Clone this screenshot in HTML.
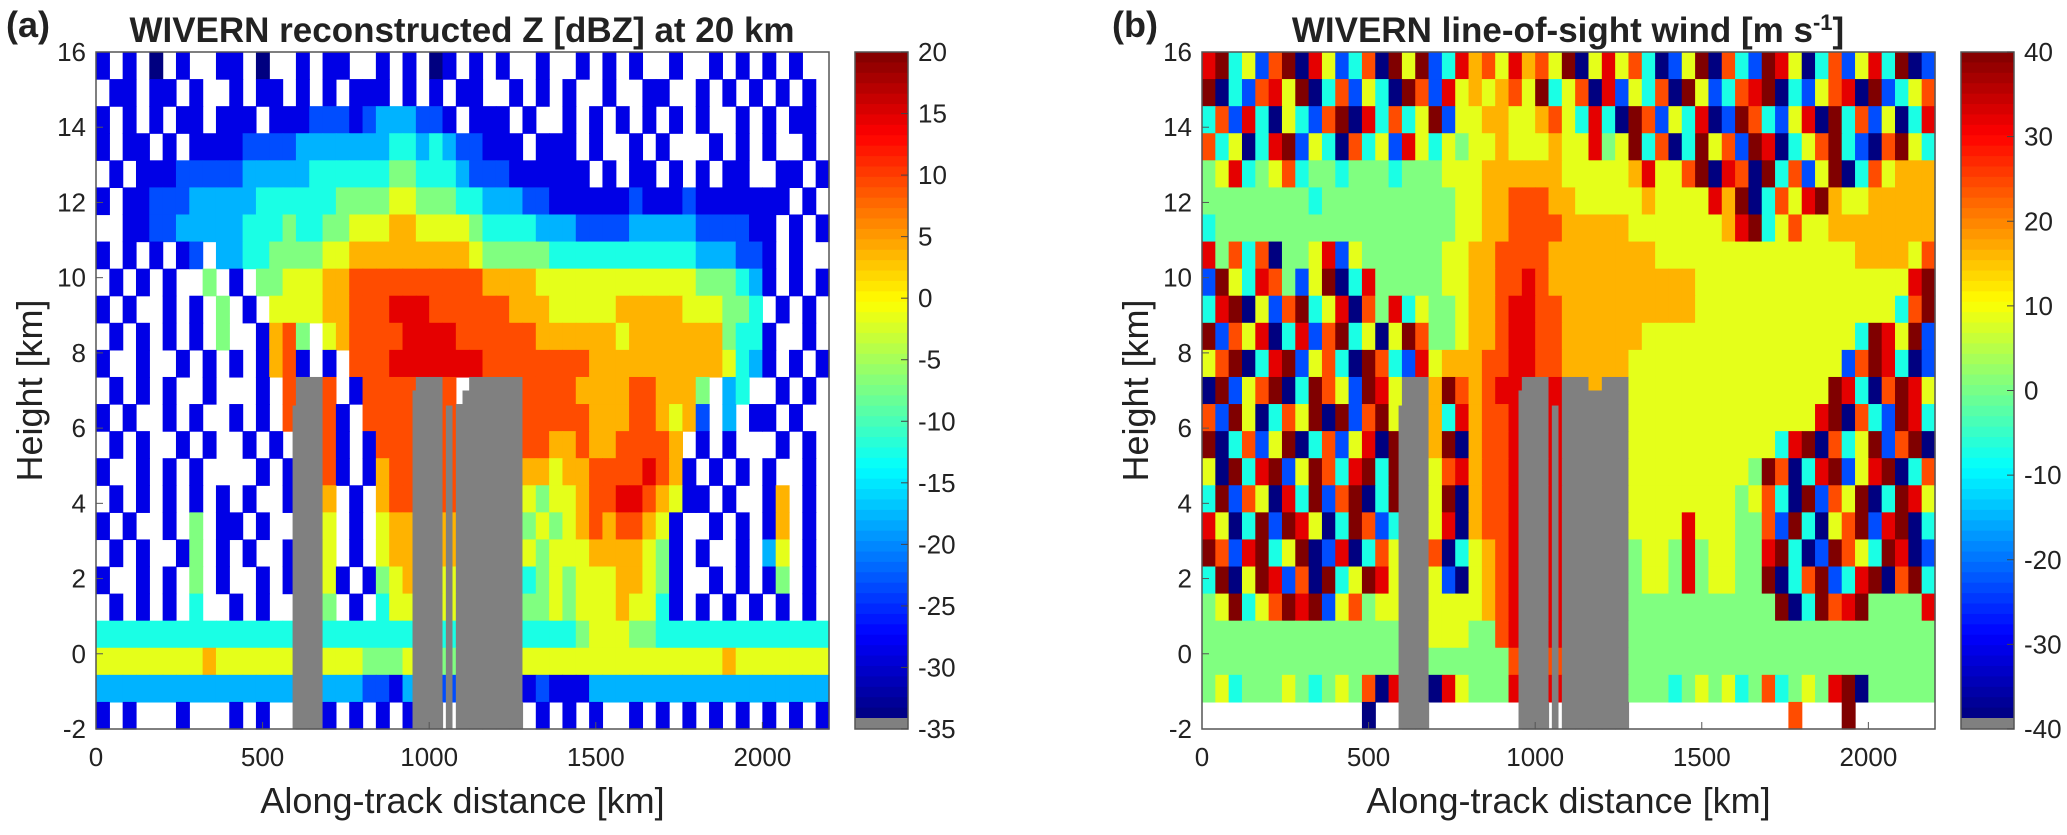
<!DOCTYPE html>
<html><head><meta charset="utf-8"><style>
body{margin:0;background:#fff}
svg text{font-family:"Liberation Sans",Arial,sans-serif;fill:#222}
</style></head><body>
<svg id="fig" width="2067" height="830" viewBox="0 0 2067 830" xmlns="http://www.w3.org/2000/svg"></svg>
<script>
// ---------- data ----------
const xTicks=[0,500,1000,1500,2000];
const yTicks=[-2,0,2,4,6,8,10,12,14,16];
const cbTicksA=[-35,-30,-25,-20,-15,-10,-5,0,5,10,15,20];
const cbTicksB=[-40,-30,-20,-10,0,10,20,30,40];
// blockage (gray) columns: start km, end km, top km
const blockStart=[590,950,1050,1100,1230];
const blockEnd=[670,1030,1070,1230,1265];
const blockTop=[6.6,7.0,6.6,7.0,6.6];
// gridded fields: 11 chunks x 5 columns (40 km each) x 25 rows (0.72 km), top row first
// '.' = no data, 'g' = blocked, '0'..'9','A' = level index 0..10
const zRows=[
"1.1.0 .1..1 1.0.. 1.11. .1.1. 01.1. 1..1. .1.1. 1..1. .1.1. 1.1..",
".11.1 1.1.. 1.11. 1.1.1 11.1. 1.11. .1.1. 1..1. .11.. 1.1.1 .1.1.",
"1.1.1 .11.1 11.11 12221 23332 21.11 1.1.. 1.1.1 .1.1. 1..1. 1.11.",
"1.11. 1.111 12222 33333 33443 43221 11.11 1.1.. 1.1.. .1.1. 1..1.",
".1.11 12222 23333 34444 44554 44322 21111 11.1. 11.1. 1.11. .11.1",
"1.112 22333 33444 44455 55665 55443 33221 11111 21112 11111 11.1.",
"..112 23333 34445 44556 66776 66654 44433 32222 33333 22221 1.1.1",
"1.1.1 .12.3 34455 55667 77777 77765 55554 44444 44444 33322 1.1..",
".1.1. 1..5. 1.556 66778 88888 88887 77766 66666 66666 55543 1.1.1",
"1.1.. 1.1.5 .1.66 66778 88999 88888 87776 66667 77776 66554 .1.1.",
".1.1. 1.1.5 ..178 5.678 88899 99888 88877 77776 77777 77544 1..1.",
"1..1. .1.1. 1.178 1.1.8 88999 99998 88888 88777 77777 77643 1.1.1",
".1.1. 1..1. ..1.8 gg8.1 8888g g8.gg gg888 87777 88777 5.34. .1.1.",
"1.1.. 1.1.. 1.1.8 gg81. 8888g g8ggg gg888 88777 88767 2.3.1 1.1..",
".1.1. .1.1. .1.1. gg81. 1888g g8ggg gg887 78778 8887. 1.1.. .1.1.",
"1..1. 1.1.. ..1.1 gg81. 1788g g8ggg gg776 77888 89871 .1.1. 1..1.",
".1.1. 1.1.1 .1..1 gg7.1 .788g g8ggg gg656 67889 98761 1.1.. 17.1.",
"1.1.. 1.5.1 1.1.. gg6.1 .677g g7ggg gg565 67878 8761. .1.1. 17.1.",
".1.1. .15.1 .1..1 gg6.1 .677g g7ggg gg656 66777 7651. 1..1. 36.1.",
"1..1. 1.5.1 ..1.1 gg61. 1567g g6ggg gg456 56667 7651. .1.1. 15.1.",
".1.1. 1.4.. 1.1.. gg5.1 .466g g6ggg gg556 56667 6641. 1.1.1 .1.1.",
"44444 44444 44444 gg444 4444g g4ggg gg444 45666 55444 44444 44444",
"66666 66676 66666 gg666 5556g g5ggg gg666 66666 66666 66766 66666",
"33333 33333 33333 gg333 2213g g2ggg gg121 11333 33333 33333 33333",
"1.1.. .1... 1.1.. gg1.1 .1.1g g.ggg gg.1. 1.1.. 1.1.1 .1.1. 1.1.1"
];
const wRows=[
"9A462 8A096 2480A 6A249 78697 86A06 96840 26A08 42A96 04826 94A02",
"A0428 96A04 82640 A8296 76786 A4680 92648 0A624 89A04 26890 A2468",
"48294 06428 A0948 46A26 67766 78649 40A82 64902 A8426 90A48 26049",
"84604 9A264 08462 96465 66766 67669 56A48 04A68 2A904 68A42 08A64",
"56945 68455 45554 55566 67777 77666 66796 68A09 80A48 26A04 86777",
"55555 55545 55555 55556 67788 87766 66676 66697 A0486 9A766 77777",
"45555 55555 55555 55556 67788 88777 77666 66667 9A468 66777 77777",
"95848 05569 26555 55566 77888 87777 77776 66666 66666 66667 77768",
"2A649 8526A 04955 55566 77889 87777 77777 77666 66666 66666 6669A",
"49A06 28A46 90859 46556 77899 88777 77777 77666 66666 66666 6648A",
"A2869 04928 A4606 A8556 77899 88777 77766 66666 66666 66664 A96A2",
"68A04 9A268 40A84 29677 78899 88777 77666 66666 66666 66628 A9402",
"0A268 A04A8 62A96 gg7A8 7899g g9gg7 gg666 66666 66666 66A94 08A96",
"82A60 486A0 A28A6 gg749 7889g g9ggg gg666 66666 66666 69A08 42A94",
"A0482 6A048 2690A gg7A0 7889g g9ggg gg666 66666 66649 A0846 A28A0",
"60A49 A26A8 49A4A gg689 7889g g9ggg gg666 66666 65A80 49A26 9A048",
"4A286 094A2 8A04A gg6A0 7889g g9ggg gg666 66666 56840 A286A 04A96",
"9604A 2A960 4A824 gg690 7889g g9ggg gg666 69666 5582A 4068A 29A04",
"A829A 46A02 90486 gg804 6789g g9ggg gg566 59566 559A4 02A86 4A902",
"4A06A 9280A 46A96 gg620 6789g g9ggg gg566 59566 55A04 8A249 A08A4",
"56A46 8A9A2 68566 gg666 6789g g9ggg gg555 55555 555A0 4A89A 55559",
"55555 55555 55555 gg666 5589g g9ggg gg555 55555 55555 55555 55555",
"55555 55555 55555 gg555 5558g g8ggg gg555 55555 55555 55555 55555",
"56455 56545 65809 gg096 5559g g9gg8 gg555 45656 45845 659A0 55555",
"..... ..... ..0.. gg... ....g g.ggg gg... ..... ....8 ...A. ....."
];
const colsN=55, rowsN=25, colKm=40, xMax=2200, yMin=-2, yMax=16;
</script>
<script>
const NS='http://www.w3.org/2000/svg';
const svg=document.getElementById('fig');
function mk(tag,attrs,parent){const e=document.createElementNS(NS,tag);for(const k in attrs)e.setAttribute(k,attrs[k]);(parent||svg).appendChild(e);return e;}
function jet(t){t=Math.max(0,Math.min(1,t));const c=v=>Math.round(255*Math.max(0,Math.min(1,v)));
 return `rgb(${c(1.5-Math.abs(4*t-3))},${c(1.5-Math.abs(4*t-2))},${c(1.5-Math.abs(4*t-1))})`;}
const LEV='0123456789A';
function parseRow(row){return row.trim().split(/\s+/).map(ch=>(ch+'.....').slice(0,5)).join('');}

function panel(o){
 const L=o.left,R=o.right,T=52,B=729;
 const xs=v=>L+(v/xMax)*(R-L);
 const ys=v=>B-(v-yMin)/(yMax-yMin)*(B-T);
 const g=mk('g',{});
 
 
 o.rows.forEach((row,r)=>{
  const s=parseRow(row);
  for(let c=0;c<colsN;c++){
   const ch=s[c]||'.';
   if(ch==='.')continue;
   const x0=xs(c*colKm), x1=xs((c+1)*colKm);
   const y0=ys(yMax-r*(yMax-yMin)/rowsN), y1=ys(yMax-(r+1)*(yMax-yMin)/rowsN);
   const fill= ch==='g' ? '#808080' : jet(LEV.indexOf(ch)/10);
   const cell=mk('rect',{x:x0.toFixed(2),y:y0.toFixed(2),width:(x1-x0+0.6).toFixed(2),height:(y1-y0+0.6).toFixed(2),fill:fill},g);
   
   
  }
 });
 blockStart.forEach((s,i)=>{
  const b=mk('rect',{x:xs(s),y:ys(blockTop[i]),width:xs(blockEnd[i])-xs(s),height:B-ys(blockTop[i]),fill:'#808080'},g);
  
  
 });
 mk('rect',{x:L,y:T,width:R-L,height:B-T,fill:'none',stroke:'#555','stroke-width':1.5},g);
 xTicks.forEach(v=>{
  mk('line',{x1:xs(v),x2:xs(v),y1:B,y2:B-7,stroke:'#555'},g);
  const t=mk('text',{x:xs(v),y:766,'text-anchor':'middle','font-size':26},g);t.textContent=v;
  
  
 });
 yTicks.forEach(v=>{
  mk('line',{x1:L,x2:L+7,y1:ys(v),y2:ys(v),stroke:'#555'},g);
  const t=mk('text',{x:L-10,y:ys(v)+9,'text-anchor':'end','font-size':26},g);t.textContent=v;
  
  
 });
 const xt=mk('text',{x:(L+R)/2,y:813,'text-anchor':'middle','font-size':36},g);xt.textContent='Along-track distance [km]';
 
 
 const yt=mk('text',{x:0,y:0,'text-anchor':'middle','font-size':36,transform:`translate(${L-54},${(T+B)/2}) rotate(-90)`},g);yt.textContent='Height [km]';
 
 
 const tt=mk('text',{x:o.titleX,y:42,'text-anchor':'middle','font-size':35,'font-weight':'bold',fill:'#000'},g);tt.innerHTML=o.title;
 
 
 const pl=mk('text',{x:o.labX,y:37,'font-size':36,'font-weight':'bold',fill:'#000'},g);pl.textContent=o.lab;
 
 
 const cg=mk('g',{},g);
 
 
 const CL=o.cbL,CR=o.cbL+53,N=64,grayH=11;
 const h=(B-T-grayH)/N;
 for(let i=0;i<N;i++){mk('rect',{x:CL,y:(T+i*h).toFixed(2),width:CR-CL,height:(h+0.5).toFixed(2),fill:jet(1-(i+0.5)/N)},cg);}
 mk('rect',{x:CL,y:B-grayH,width:CR-CL,height:grayH,fill:'#808080'},cg);
 mk('rect',{x:CL,y:T,width:CR-CL,height:B-T,fill:'none',stroke:'#555','stroke-width':1.5},cg);
 const cy=v=>B-(v-o.cmin)/(o.cmax-o.cmin)*(B-T);
 o.cbTicks.forEach(v=>{
  mk('line',{x1:CR-7,x2:CR,y1:cy(v),y2:cy(v),stroke:'#444'},cg);
  const t=mk('text',{x:CR+10,y:cy(v)+9,'font-size':26},cg);t.textContent=v;
  
  
 });
}
panel({name:'reflectivity',left:96,right:829,rows:zRows,cbL:855,cmin:-35,cmax:20,cbTicks:cbTicksA,
 title:'WIVERN reconstructed Z [dBZ] at 20 km',titleX:462,lab:'(a)',labX:6});
panel({name:'wind',left:1202,right:1935,rows:wRows,cbL:1961,cmin:-40,cmax:40,cbTicks:cbTicksB,
 title:'WIVERN line-of-sight wind [m s<tspan dy="-12" font-size="22">-1</tspan><tspan dy="12">]</tspan>',titleX:1568,lab:'(b)',labX:1112});
</script>
</body></html>
